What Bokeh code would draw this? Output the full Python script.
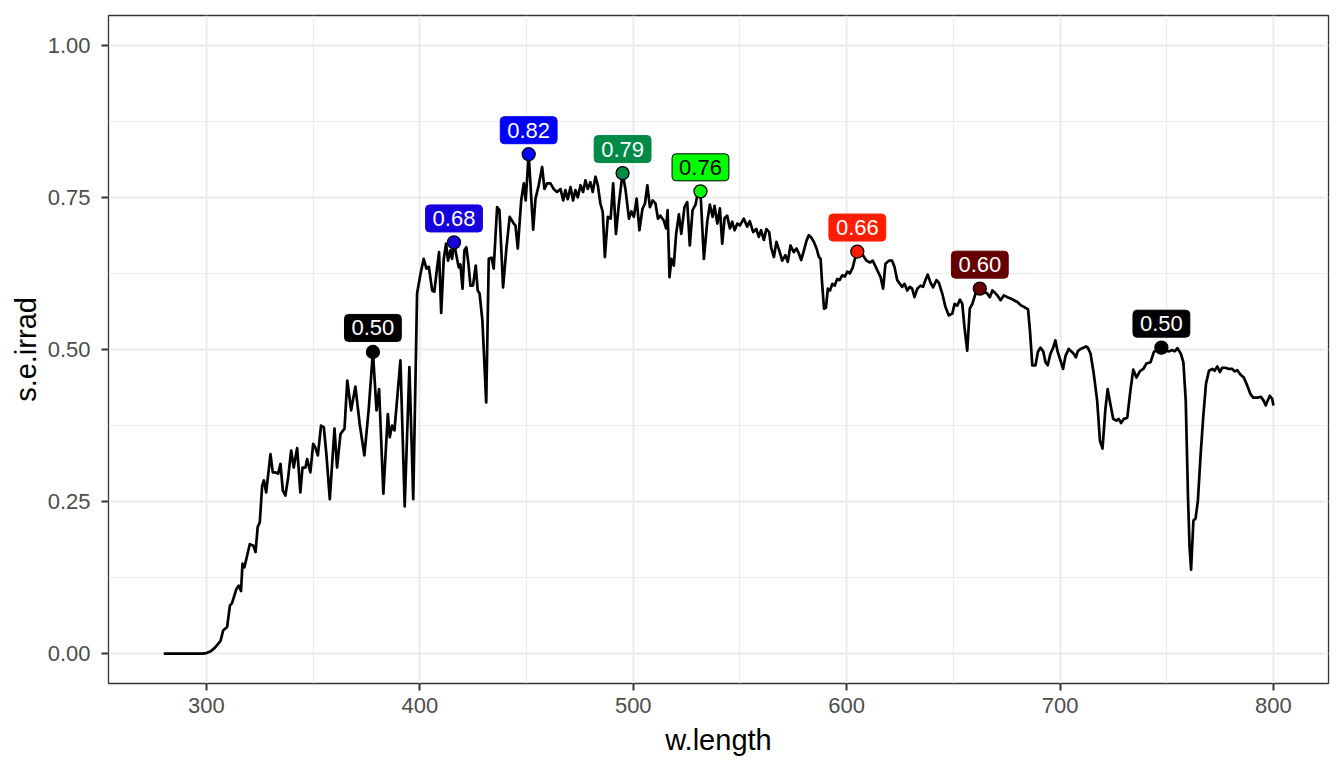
from bokeh.plotting import figure
from bokeh.models import ColumnDataSource, Range1d, FixedTicker, NumeralTickFormatter
from bokeh.embed import file_html
from bokeh.resources import INLINE
from bokeh.core.properties import value

# spectrum (w.length in nm, s.e.irrad)
w_length = [
    280, 290, 298, 300, 302, 304, 306.6, 307.8, 309.7, 311, 312, 314, 315.1, 316.2, 316.9, 317.8,
    320.3, 321.9, 323, 324, 325, 326.1, 326.9, 328, 330, 331.1, 332.3, 333.6, 334.7, 335.8,
    337, 338.3, 339.7, 340.9, 342.5, 344, 345, 346.4, 347.2, 348.7, 350, 351, 352.2, 353.7,
    355, 356.2, 357.8, 360, 361.2, 362.8, 364.7, 366, 367.8, 369.8, 371.8, 374, 376, 378,
    379.7, 380.9, 382.9, 385, 385.9, 387, 388.1, 390.9, 392.9, 395.1, 396.9, 398.7, 400.3,
    401.8, 403.1, 404.2, 405.8, 406.8, 408.1, 409, 410, 411.2, 412.3, 413.2, 414.3, 415.1,
    416, 417.1, 418.2, 419, 420, 420.9, 421.8, 422.8, 423.7, 424.9, 426.2, 427.1, 428, 429.3,
    431.1, 432.3, 433.6, 434.6, 436.2, 437.3, 439, 440.6, 442.1, 444, 444.8, 445.9, 447.5,
    448.7, 449.6, 451, 453.1, 454.2, 455.7, 457.3, 458.4, 459.6, 461.2, 462.7, 464.3, 465.9,
    467.2, 468.2, 469.3, 470.6, 471.8, 472.9, 474, 475.3, 476.5, 477.6, 478.7, 479.9, 481,
    482.3, 483.4, 484.6, 485.7, 486.7, 488.1, 489.4, 490.6, 491.9, 493.3, 495, 496.4, 498,
    499.1, 500.3, 501.6, 502.9, 504.3, 505.5, 506.6, 507.8, 509.1, 510.4, 511.6, 512.7,
    514.3, 515.4, 516.1, 517, 517.9, 519, 520.1, 521.4, 522.5, 524, 525.3, 526.5, 527.8,
    529.2, 530.3, 531.5, 533.1, 534.7, 535.9, 537.2, 538.1, 539.4, 540.6, 541.7, 542.8, 544,
    545.3, 546.4, 547.5, 548.8, 550, 551.8, 553.4, 554.6, 556.2, 557.7, 558.8, 559.9, 561.2,
    562.4, 563.7, 564.6, 565.9, 567.1, 568.4, 569.8, 571.3, 572.4, 573.7, 575.2, 576.5,
    577.6, 578.7, 580, 581.2, 582.3, 583.4, 584.6, 585.9, 587, 587.8, 588.4, 589.4, 590.3,
    591.2, 592.2, 593.3, 594.4, 595.6, 596.7, 597.9, 599.2, 600.3, 601.5, 602.8, 603.7, 605,
    606.5, 607.8, 609.3, 610.9, 612.2, 613.6, 614.8, 615.9, 617.1, 618.2, 619.8, 621.3,
    622.4, 623.7, 624.9, 626, 627.1, 628.4, 629.6, 630.7, 631.8, 633.1, 634.6, 635.8, 636.9,
    638, 639.3, 640.5, 642.1, 643.2, 644.8, 646.3, 647.9, 649.5, 650.6, 651.8, 653.1, 654.2,
    655.2, 656.5, 657.7, 658.9, 660.4, 662.4, 664.3, 665.9, 667.1, 668.3, 669.3, 670.6,
    672.1, 673.7, 675.3, 676.8, 678.4, 680, 681.5, 683.1, 685, 685.9, 687, 688.5, 689.6,
    690.8, 692.1, 693.2, 694.2, 695.5, 696.8, 697.8, 698.9, 700.2, 701.4, 702.6, 704.1,
    705.2, 706.4, 707.4, 708.3, 709.6, 710.9, 712.1, 713, 714.3, 715.8, 717.4, 718.7, 719.9,
    721.2, 722.3, 723.6, 724.9, 726.4, 727.5, 728.6, 729.9, 731.5, 733, 734.3, 735.8, 737.4,
    739, 740.5, 742.4, 744, 745.6, 747.5, 749.5, 751.1, 752.6, 753.7, 755, 756.6, 757.8,
    758.9, 760, 760.7, 761.4, 762.5, 763.5, 764.6, 765.8, 767.1, 768.4, 769.8, 771.4, 772.4,
    773.7, 774.9, 776, 777.5, 779.1, 780.7, 781.9, 783, 784.5, 786.1, 787.7, 789.2, 790.5,
    792.3, 794.2, 795.4, 796.4, 797.3, 798.3, 799.4, 800,
]
s_e_irrad = [
    0.0, 0.0, 0.0, 0.001, 0.004, 0.010, 0.021, 0.038, 0.044, 0.079, 0.083, 0.106, 0.112, 0.103, 0.148, 0.142,
    0.180, 0.178, 0.167, 0.208, 0.216, 0.276, 0.285, 0.265, 0.328, 0.298, 0.298, 0.296, 0.312, 0.268,
    0.260, 0.290, 0.334, 0.306, 0.338, 0.265, 0.306, 0.306, 0.320, 0.298, 0.345, 0.339, 0.326, 0.375,
    0.372, 0.328, 0.254, 0.370, 0.306, 0.361, 0.370, 0.449, 0.400, 0.439, 0.378, 0.326, 0.400, 0.496,
    0.400, 0.435, 0.263, 0.394, 0.356, 0.375, 0.367, 0.482, 0.242, 0.471, 0.254, 0.592, 0.624,
    0.649, 0.633, 0.636, 0.597, 0.595, 0.635, 0.660, 0.560, 0.649, 0.674, 0.646, 0.663, 0.649,
    0.676, 0.655, 0.635, 0.640, 0.600, 0.663, 0.668, 0.640, 0.605, 0.605, 0.638, 0.597, 0.592, 0.548,
    0.413, 0.649, 0.651, 0.633, 0.734, 0.729, 0.602, 0.668, 0.718, 0.707, 0.704, 0.666, 0.745,
    0.773, 0.745, 0.821, 0.697, 0.748, 0.770, 0.800, 0.764, 0.773, 0.773, 0.764, 0.759, 0.764,
    0.745, 0.762, 0.747, 0.767, 0.745, 0.762, 0.750, 0.770, 0.759, 0.778, 0.764, 0.775, 0.759,
    0.784, 0.770, 0.740, 0.726, 0.652, 0.718, 0.715, 0.773, 0.690, 0.740, 0.790, 0.762, 0.715,
    0.727, 0.718, 0.748, 0.696, 0.731, 0.740, 0.770, 0.734, 0.745, 0.740, 0.715, 0.720,
    0.712, 0.699, 0.729, 0.619, 0.649, 0.638, 0.690, 0.722, 0.690, 0.734, 0.742, 0.671, 0.729,
    0.738, 0.759, 0.760, 0.649, 0.711, 0.738, 0.718, 0.736, 0.707, 0.732, 0.674, 0.716, 0.720,
    0.699, 0.710, 0.696, 0.707, 0.704, 0.715, 0.702, 0.711, 0.693, 0.698, 0.685, 0.696, 0.680,
    0.698, 0.693, 0.668, 0.652, 0.677, 0.663, 0.646, 0.655, 0.644, 0.671, 0.660, 0.666,
    0.658, 0.647, 0.663, 0.679, 0.688, 0.684, 0.677, 0.666, 0.652, 0.649, 0.614, 0.567, 0.569,
    0.600, 0.597, 0.608, 0.605, 0.616, 0.614, 0.622, 0.620, 0.628, 0.625, 0.634, 0.647, 0.661,
    0.660, 0.654, 0.646, 0.643, 0.646, 0.636, 0.627, 0.619, 0.600, 0.641, 0.646, 0.646,
    0.636, 0.614, 0.608, 0.603, 0.608, 0.597, 0.603, 0.600, 0.586, 0.600, 0.605, 0.603, 0.614,
    0.623, 0.610, 0.602, 0.614, 0.610, 0.592, 0.570, 0.556, 0.559, 0.575, 0.572, 0.582, 0.575,
    0.537, 0.498, 0.567, 0.575, 0.592, 0.600, 0.595, 0.592, 0.586, 0.597, 0.594, 0.589,
    0.581, 0.589, 0.586, 0.584, 0.581, 0.578, 0.573, 0.570, 0.566, 0.531, 0.474, 0.474, 0.496,
    0.503, 0.497, 0.479, 0.474, 0.493, 0.503, 0.515, 0.496, 0.482, 0.468, 0.490, 0.501,
    0.497, 0.493, 0.487, 0.497, 0.501, 0.503, 0.505, 0.503, 0.493, 0.460, 0.416, 0.350, 0.337,
    0.400, 0.435, 0.410, 0.386, 0.383, 0.386, 0.379, 0.386, 0.388, 0.433, 0.467, 0.454, 0.464,
    0.468, 0.477, 0.479, 0.496, 0.500, 0.503, 0.498, 0.497, 0.499, 0.497, 0.502, 0.493, 0.479,
    0.416, 0.252, 0.175, 0.138, 0.219, 0.222, 0.252, 0.323, 0.389, 0.444, 0.465, 0.468, 0.465,
    0.472, 0.463, 0.470, 0.470, 0.468, 0.468, 0.464, 0.466, 0.459, 0.454, 0.441, 0.427, 0.421,
    0.421, 0.422, 0.416, 0.408, 0.416, 0.424, 0.419, 0.408,
]

# labelled peaks
peak_w_length = [378, 416, 451, 495, 531.5, 605, 662.4, 747.5]
peak_s_e_irrad = [0.496, 0.676, 0.821, 0.790, 0.760, 0.661, 0.600, 0.503]
peak_colour = ["#000000", "#1700DE", "#0000FF", "#008A47", "#00FF00", "#FF1C00", "#660000", "#000000"]
peak_text_colour = ["white", "white", "white", "white", "black", "white", "white", "white"]

x_major = [300, 400, 500, 600, 700, 800]
x_minor = [250, 350, 450, 550, 650, 750]
y_major = [0.0, 0.25, 0.5, 0.75, 1.0]
y_minor = [0.125, 0.375, 0.625, 0.875]

FONT = "Liberation Sans"

p = figure(frame_width=1220, frame_height=668, output_backend="svg", toolbar_location=None,
           x_range=Range1d(254.1, 825.8), y_range=Range1d(-0.049, 1.049),
           min_border_left=108, min_border_right=16, min_border_top=15, min_border_bottom=85)
p.background_fill_color = "white"
p.border_fill_color = "white"
p.outline_line_color = "#333333"
p.outline_line_width = 1.3

p.xaxis.ticker = FixedTicker(ticks=x_major, minor_ticks=x_minor)
p.yaxis.ticker = FixedTicker(ticks=y_major, minor_ticks=y_minor)
p.yaxis.formatter = NumeralTickFormatter(format="0.00")

for g in (p.xgrid, p.ygrid):
    g.grid_line_color = "#EBEBEB"
    g.grid_line_width = 2
    g.minor_grid_line_color = "#EBEBEB"
    g.minor_grid_line_width = 1.1

for ax in (p.xaxis, p.yaxis):
    ax.axis_line_color = None
    ax.major_tick_line_color = "#333333"
    ax.major_tick_line_width = 2
    ax.major_tick_out = 7
    ax.major_tick_in = 0
    ax.minor_tick_line_color = None
    ax.major_label_text_font = FONT
    ax.major_label_text_font_size = "22px"
    ax.major_label_text_color = "#4D4D4D"
    ax.axis_label_text_font = FONT
    ax.axis_label_text_font_size = "29px"
    ax.axis_label_text_font_style = "normal"
    ax.axis_label_text_color = "black"

p.xaxis.axis_label = "w.length"
p.yaxis.axis_label = "s.e.irrad"
p.xaxis.major_label_standoff = 7
p.yaxis.major_label_standoff = 11
p.xaxis.axis_label_standoff = 8
p.yaxis.axis_label_standoff = 3

spec = ColumnDataSource(dict(w=w_length, s=s_e_irrad))
p.line("w", "s", source=spec, line_color="black", line_width=2.7, line_join="round")

peaks = ColumnDataSource(dict(
    w=peak_w_length, s=peak_s_e_irrad, col=peak_colour, tc=peak_text_colour,
    bd=[c if t == "white" else "black" for c, t in zip(peak_colour, peak_text_colour)],
    lab=[f"{v:.2f}" for v in peak_s_e_irrad],
))
p.scatter("w", "s", source=peaks, size=13, fill_color="col", line_color="black", line_width=1.3)
p.text("w", "s", text="lab", source=peaks, text_color="tc", text_font=value(FONT),
       text_font_size="22px", text_align="center", text_baseline="middle", y_offset=-24,
       background_fill_color="col", border_line_color="bd", border_line_width=1,
       padding=(7, 6), border_radius=4)

open("out.html", "w").write(file_html(p, INLINE))
